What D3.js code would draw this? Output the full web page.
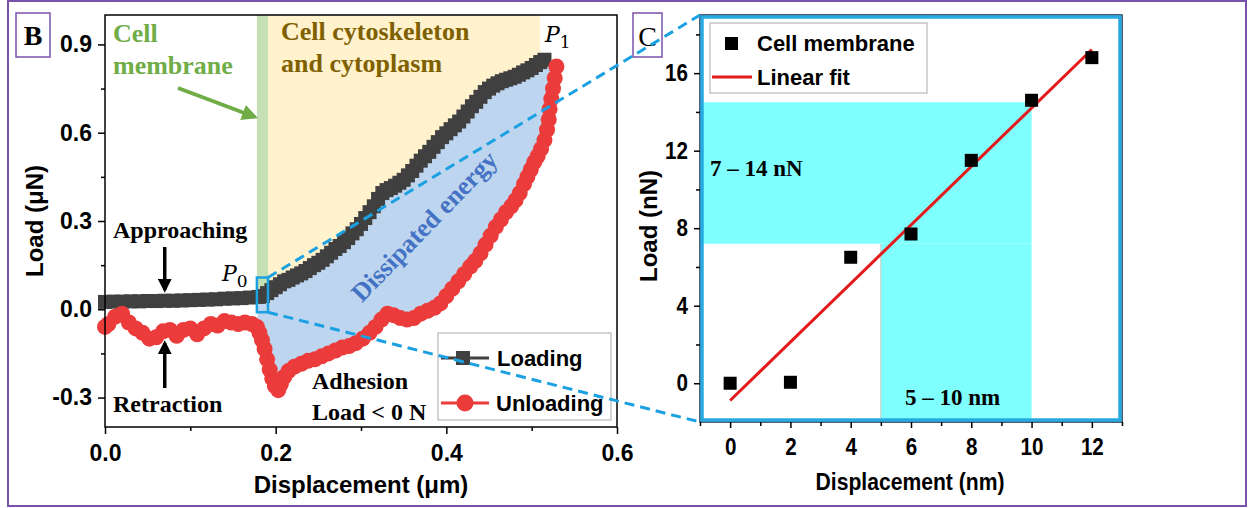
<!DOCTYPE html>
<html>
<head>
<meta charset="utf-8">
<script src="https://cdn.jsdelivr.net/npm/d3@7"></script>
<style>
  body { margin: 0; background: #fff; }
  svg { display: block; }
  .sans { font-family: "Liberation Sans", Arial, sans-serif; font-weight: bold; }
  .serif { font-family: "Liberation Serif", "Times New Roman", serif; font-weight: bold; }
</style>
</head>
<body>
<svg id="fig" width="1249" height="508"></svg>
<script>
// ---- panel B: force-displacement curve (µm, µN) ----
const loadingDisp = [0.000,0.010,0.020,0.030,0.040,0.050,0.060,0.070,0.080,0.090,0.100,0.110,0.120,0.130,0.140,0.150,0.160,0.170,0.180,0.185,
  0.190,0.195,0.200,0.205,0.210,0.215,0.220,0.225,0.230,0.235,0.240,0.245,0.250,0.255,0.260,0.265,0.270,0.275,0.280,0.285,
  0.290,0.295,0.300,0.305,0.310,0.315,0.320,0.325,0.330,0.335,0.340,0.345,0.350,0.355,0.360,0.365,0.370,0.375,0.380,0.385,
  0.390,0.395,0.400,0.405,0.410,0.415,0.420,0.425,0.430,0.435,0.440,0.445,0.450,0.455,0.460,0.465,0.470,0.475,0.480,0.485,
  0.490,0.495,0.500,0.505,0.510,0.515];
const loadingLoad = [0.025,0.026,0.026,0.027,0.027,0.028,0.028,0.029,0.029,0.030,0.031,0.032,0.033,0.034,0.036,0.037,0.038,0.040,0.042,0.045,
  0.055,0.065,0.075,0.085,0.095,0.100,0.108,0.115,0.122,0.130,0.140,0.150,0.158,0.168,0.180,0.192,0.205,0.215,0.228,0.242,
  0.258,0.272,0.290,0.310,0.330,0.350,0.375,0.395,0.405,0.412,0.420,0.430,0.440,0.455,0.470,0.488,0.505,0.520,0.535,0.552,
  0.568,0.585,0.598,0.612,0.625,0.638,0.655,0.672,0.690,0.705,0.722,0.738,0.750,0.760,0.768,0.775,0.780,0.785,0.790,0.797,
  0.805,0.812,0.820,0.830,0.840,0.848];

// unloading, in path order from P1 back to zero
const unloadingDisp = [0.529,0.527,0.525,0.523,0.521,0.520,0.518,0.515,0.511,0.507,0.503,0.499,0.495,0.491,0.486,0.481,0.476,0.470,0.464,0.458,
  0.452,0.446,0.440,0.434,0.428,0.421,0.414,0.407,0.400,0.393,0.386,0.378,0.370,0.362,0.354,0.346,0.338,0.331,0.324,0.317,
  0.310,0.302,0.294,0.286,0.278,0.270,0.262,0.254,0.246,0.238,0.230,0.222,0.215,0.210,0.206,0.203,0.199,0.196,0.193,0.190,
  0.187,0.184,0.181,0.178,0.172,0.164,0.156,0.148,0.140,0.132,0.124,0.116,0.108,0.100,0.092,0.084,0.076,0.068,0.060,0.052,
  0.044,0.036,0.028,0.020,0.012,0.004,0.000];
const unloadingLoad = [0.825,0.785,0.750,0.715,0.680,0.645,0.610,0.575,0.545,0.520,0.500,0.475,0.450,0.425,0.395,0.370,0.350,0.330,0.305,0.280,
  0.250,0.220,0.190,0.165,0.145,0.120,0.095,0.070,0.045,0.020,0.005,-0.005,-0.015,-0.030,-0.035,-0.030,-0.020,-0.015,-0.035,-0.060,
  -0.080,-0.100,-0.115,-0.125,-0.130,-0.140,-0.150,-0.160,-0.170,-0.175,-0.185,-0.195,-0.210,-0.230,-0.255,-0.275,-0.260,-0.235,-0.205,-0.170,
  -0.135,-0.105,-0.080,-0.060,-0.050,-0.045,-0.050,-0.045,-0.040,-0.055,-0.050,-0.065,-0.085,-0.065,-0.070,-0.090,-0.070,-0.075,-0.095,-0.100,
  -0.080,-0.065,-0.045,-0.015,-0.025,-0.050,-0.060];

const membraneRange = [0.178, 0.191];     // µm
const cytoRange = [0.191, 0.512];         // µm
const zoomBox = {x: [0.178, 0.191], y: [-0.01, 0.108]};
const bXTicks = [0, 0.2, 0.4, 0.6], bXMinor = [0.1, 0.3, 0.5];
const bYTicks = [-0.3, 0, 0.3, 0.6, 0.9], bYMinor = [-0.15, 0.15, 0.45, 0.75];

// ---- panel C: cell membrane points (nm, nN) ----
const memDisp = [0, 2, 4, 6, 8, 10, 12];
const memLoad = [0, 0.05, 6.5, 7.7, 11.5, 14.6, 16.8];
const loadBand = [7.2, 14.5];   // nN
const dispBand = [5, 10];       // nm
const cXTicks = [0, 2, 4, 6, 8, 10, 12], cXMinor = [-1, 1, 3, 5, 7, 9, 11, 13];
const cYTicks = [0, 4, 8, 12, 16], cYMinor = [2, 6, 10, 14, 18];

const svg = d3.select("#fig");
const defs = svg.append("defs");
function arrowMarker(id, color) {
  defs.append("marker").attr("id", id).attr("viewBox", "0 0 10 10")
    .attr("refX", 8).attr("refY", 5).attr("markerWidth", 4).attr("markerHeight", 4)
    .attr("orient", "auto").attr("markerUnits", "strokeWidth")
    .append("path").attr("d", "M0,0 L10,5 L0,10 z").attr("fill", color);
}
arrowMarker("arrK", "#000");
arrowMarker("arrG", "#70ad47");

// outer frame
svg.append("rect").attr("x", 8).attr("y", 1).attr("width", 1238).attr("height", 505)
  .attr("fill", "none").attr("stroke", "#7b52ab").attr("stroke-width", 2);

// ================= B =================
const xB = d3.scaleLinear().domain([0, 0.6]).range([105, 617]);
const yB = d3.scaleLinear().domain([-0.4, 1.0]).range([427, 15]);
const loading = loadingDisp.map((d, i) => [d, loadingLoad[i]]);
const unloading = unloadingDisp.map((d, i) => [d, unloadingLoad[i]]);
const fmtB = d => d3.format(".1f")(d).replace("−", "-");

const gB = svg.append("g");
// yellow: cytoskeleton region above loading curve
const areaTop = d3.area().x(d => xB(d[0])).y0(yB(1.0)).y1(d => yB(d[1]));
gB.append("path")
  .datum(loading.filter(d => d[0] >= cytoRange[0] - 0.001 && d[0] <= cytoRange[1]))
  .attr("d", areaTop).attr("fill", "#fff2cc");
gB.append("rect")
  .attr("x", xB(membraneRange[0])).attr("width", xB(membraneRange[1]) - xB(membraneRange[0]))
  .attr("y", yB(1.0)).attr("height", yB(0.04) - yB(1.0))
  .attr("fill", "#c5e0b4");
// dissipated energy (between curves)
const hyst = loading.filter(d => d[0] >= 0.178).concat(unloading.filter(d => d[0] >= 0.178));
gB.append("path")
  .attr("d", d3.line().x(d => xB(d[0])).y(d => yB(d[1]))(hyst) + "Z")
  .attr("fill", "#bdd5ee");

// curves
const lineB = d3.line().x(d => xB(d[0])).y(d => yB(d[1]));
gB.append("path").datum(loading).attr("d", lineB).attr("fill", "none").attr("stroke", "#404040").attr("stroke-width", 2);
gB.selectAll("rect.ld").data(loading).join("rect").attr("class", "ld")
  .attr("x", d => xB(d[0]) - 7).attr("y", d => yB(d[1]) - 7)
  .attr("width", 14).attr("height", 14).attr("fill", "#404040");
gB.append("path").datum(unloading).attr("d", lineB).attr("fill", "none").attr("stroke", "#ec3b3b").attr("stroke-width", 2);
gB.selectAll("circle.ul").data(unloading).join("circle").attr("class", "ul")
  .attr("cx", d => xB(d[0])).attr("cy", d => yB(d[1])).attr("r", 8).attr("fill", "#ec3b3b");

// frame + axes
gB.append("rect").attr("x", 105).attr("y", 15).attr("width", 512).attr("height", 412)
  .attr("fill", "none").attr("stroke", "#000").attr("stroke-width", 1.5);
function styleAxis(g, size) {
  g.select(".domain").remove();
  g.selectAll("line").attr("stroke", "#000").attr("stroke-width", 1.5);
  g.selectAll("text").attr("class", "sans").style("font-size", size + "px").attr("fill", "#000");
}
gB.append("g").attr("transform", "translate(0,427)")
  .call(d3.axisBottom(xB).tickValues(bXTicks).tickFormat(fmtB).tickSize(7).tickPadding(11))
  .call(g => styleAxis(g, 23));
gB.append("g").attr("transform", "translate(0,427)")
  .call(d3.axisBottom(xB).tickValues(bXMinor).tickFormat("").tickSize(4)).call(g => styleAxis(g, 23));
gB.append("g").attr("transform", "translate(105,0)")
  .call(d3.axisLeft(yB).tickValues(bYTicks).tickFormat(fmtB).tickSize(7).tickPadding(6))
  .call(g => styleAxis(g, 23));
gB.append("g").attr("transform", "translate(105,0)")
  .call(d3.axisLeft(yB).tickValues(bYMinor).tickFormat("").tickSize(4)).call(g => styleAxis(g, 23));

gB.append("text").attr("class", "sans").attr("font-size", 24).attr("text-anchor", "middle")
  .attr("x", 361).attr("y", 493).text("Displacement (μm)");
gB.append("text").attr("class", "sans").attr("font-size", 24).attr("text-anchor", "middle")
  .attr("transform", "translate(43,221) rotate(-90)").text("Load (μN)");

// annotations
function serifText(g, x, y, s, color, size) {
  return g.append("text").attr("class", "serif").attr("font-size", size).attr("fill", color)
    .attr("x", x).attr("y", y).text(s);
}
serifText(gB, 113, 42, "Cell", "#70ad47", 26);
serifText(gB, 113, 74, "membrane", "#70ad47", 26);
serifText(gB, 281, 40, "Cell cytoskeleton", "#7f6000", 26);
serifText(gB, 281, 72, "and cytoplasm", "#7f6000", 26);
serifText(gB, 113, 238, "Approaching", "#000", 24);
serifText(gB, 113, 412, "Retraction", "#000", 24);
serifText(gB, 312, 389, "Adhesion", "#000", 24);
serifText(gB, 312, 420, "Load < 0 N", "#000", 24);
gB.append("text").attr("class", "serif").attr("font-size", 26).attr("fill", "#4472c4")
  .attr("text-anchor", "middle").attr("dy", "0.35em")
  .attr("transform", "translate(424,226) rotate(-46)").text("Dissipated energy");

function pLabel(x, y, sub) {
  const t = gB.append("text").attr("x", x).attr("y", y)
    .style("font-family", "'DejaVu Serif', 'Liberation Serif', serif").attr("font-size", 22);
  t.append("tspan").attr("font-style", "italic").text("P");
  t.append("tspan").attr("font-size", 17).attr("dy", 6).text(sub);
}
pLabel(222, 281, "0");
pLabel(545, 42, "1");

gB.append("line").attr("x1", 178).attr("y1", 88).attr("x2", 255).attr("y2", 117)
  .attr("stroke", "#70ad47").attr("stroke-width", 4).attr("marker-end", "url(#arrG)");
gB.append("line").attr("x1", xB(0.07)).attr("y1", 247).attr("x2", xB(0.07)).attr("y2", 290)
  .attr("stroke", "#000").attr("stroke-width", 3.5).attr("marker-end", "url(#arrK)");
gB.append("line").attr("x1", xB(0.07)).attr("y1", 388).attr("x2", xB(0.07)).attr("y2", 343)
  .attr("stroke", "#000").attr("stroke-width", 3.5).attr("marker-end", "url(#arrK)");

// legend B
const lgB = gB.append("g");
lgB.append("rect").attr("x", 438).attr("y", 333).attr("width", 173).attr("height", 87)
  .attr("fill", "#fff").attr("stroke", "#aaa").attr("stroke-width", 1);
lgB.append("line").attr("x1", 441).attr("x2", 489).attr("y1", 358).attr("y2", 358).attr("stroke", "#404040").attr("stroke-width", 3);
lgB.append("rect").attr("x", 456).attr("y", 351).attr("width", 14).attr("height", 14).attr("fill", "#404040");
lgB.append("line").attr("x1", 441).attr("x2", 489).attr("y1", 403).attr("y2", 403).attr("stroke", "#ec3b3b").attr("stroke-width", 3);
lgB.append("circle").attr("cx", 465).attr("cy", 403).attr("r", 8.5).attr("fill", "#ec3b3b");
lgB.append("text").attr("class", "sans").attr("font-size", 22).attr("x", 497).attr("y", 366).text("Loading");
lgB.append("text").attr("class", "sans").attr("font-size", 22).attr("x", 496).attr("y", 411).text("Unloading");

// zoom box at P0
gB.append("rect").attr("x", xB(zoomBox.x[0])).attr("y", yB(zoomBox.y[1]))
  .attr("width", xB(zoomBox.x[1]) - xB(zoomBox.x[0])).attr("height", yB(zoomBox.y[0]) - yB(zoomBox.y[1]))
  .attr("fill", "none").attr("stroke", "#1ba1e2").attr("stroke-width", 2.5);

// label B
svg.append("rect").attr("x", 16).attr("y", 13).attr("width", 34).attr("height", 44)
  .attr("fill", "#fff").attr("stroke", "#7b52ab").attr("stroke-width", 1.5);
svg.append("text").attr("class", "serif").attr("font-size", 28).attr("text-anchor", "middle")
  .attr("x", 33).attr("y", 45).text("B");

// ================= C =================
const xC = d3.scaleLinear().domain([-1, 13]).range([700, 1122]);
const yC = d3.scaleLinear().domain([-2, 19]).range([422, 15]);
const gC = svg.append("g");
gC.append("rect").attr("x", xC(-1)).attr("y", yC(loadBand[1]))
  .attr("width", xC(dispBand[1]) - xC(-1)).attr("height", yC(loadBand[0]) - yC(loadBand[1]))
  .attr("fill", "#80ffff");
gC.append("rect").attr("x", xC(dispBand[0])).attr("y", yC(loadBand[0]))
  .attr("width", xC(dispBand[1]) - xC(dispBand[0])).attr("height", yC(-2) - yC(loadBand[0]))
  .attr("fill", "#80ffff");
gC.append("line").attr("x1", xC(dispBand[0])).attr("x2", xC(dispBand[0]))
  .attr("y1", yC(-2)).attr("y2", yC(loadBand[0])).attr("stroke", "#c8c8c8").attr("stroke-width", 1);

// linear fit from the points
const mx = d3.mean(memDisp), my = d3.mean(memLoad);
const slope = d3.sum(memDisp, (x, i) => (x - mx) * (memLoad[i] - my)) / d3.sum(memDisp, x => (x - mx) ** 2);
const icpt = my - slope * mx;
const x0 = d3.min(memDisp), x1 = d3.max(memDisp);
gC.append("line").attr("x1", xC(x0)).attr("y1", yC(icpt + slope * x0))
  .attr("x2", xC(x1)).attr("y2", yC(icpt + slope * x1))
  .attr("stroke", "#e31a1c").attr("stroke-width", 3);
gC.selectAll("rect.pt").data(memDisp).join("rect").attr("class", "pt")
  .attr("x", (d) => xC(d) - 6.5).attr("y", (d, i) => yC(memLoad[i]) - 6.5)
  .attr("width", 13).attr("height", 13).attr("fill", "#000");

serifText(gC, 710, 176, "7 – 14 nN", "#000", 23);
serifText(gC, 905, 405, "5 – 10 nm", "#000", 23);

// legend C
gC.append("rect").attr("x", 710).attr("y", 23).attr("width", 217).attr("height", 70)
  .attr("fill", "#fff").attr("stroke", "#aaa").attr("stroke-width", 1);
gC.append("rect").attr("x", 725).attr("y", 37).attr("width", 13).attr("height", 13).attr("fill", "#000");
gC.append("line").attr("x1", 712).attr("x2", 752).attr("y1", 77).attr("y2", 77).attr("stroke", "#e31a1c").attr("stroke-width", 3);
gC.append("text").attr("class", "sans").attr("font-size", 22).attr("x", 757).attr("y", 51).text("Cell membrane");
gC.append("text").attr("class", "sans").attr("font-size", 22).attr("x", 757).attr("y", 85).text("Linear fit");

// frame: black edge with cyan border inside
gC.append("rect").attr("x", 700).attr("y", 15).attr("width", 422).attr("height", 407)
  .attr("fill", "none").attr("stroke", "#1a2a40").attr("stroke-width", 1.5);
gC.append("rect").attr("x", 702).attr("y", 17).attr("width", 418).attr("height", 403)
  .attr("fill", "none").attr("stroke", "#27a9e1").attr("stroke-width", 3.5);

function styleC(g) {
  styleAxis(g, 24);
  g.selectAll("text").attr("transform", "scale(0.86,1)");
}
gC.append("g").attr("transform", "translate(0,422)")
  .call(d3.axisBottom(xC).tickValues(cXTicks).tickSize(6).tickPadding(10)).call(styleC);
gC.append("g").attr("transform", "translate(0,422)")
  .call(d3.axisBottom(xC).tickValues(cXMinor).tickFormat("").tickSize(4)).call(styleC);
gC.append("g").attr("transform", "translate(700,0)")
  .call(d3.axisLeft(yC).tickValues(cYTicks).tickSize(6).tickPadding(8)).call(styleC);
gC.append("g").attr("transform", "translate(700,0)")
  .call(d3.axisLeft(yC).tickValues(cYMinor).tickFormat("").tickSize(4)).call(styleC);

gC.append("text").attr("class", "sans").attr("font-size", 24).attr("text-anchor", "middle")
  .attr("transform", "translate(910,490) scale(0.88,1)").text("Displacement (nm)");
gC.append("text").attr("class", "sans").attr("font-size", 24).attr("text-anchor", "middle")
  .attr("transform", "translate(657,226) rotate(-90)").text("Load (nN)");

// label C
svg.append("rect").attr("x", 633).attr("y", 13).attr("width", 29).attr("height", 44)
  .attr("fill", "#fff").attr("stroke", "#7b52ab").attr("stroke-width", 1.5);
svg.append("text").style("font-family", "'Liberation Serif', serif").attr("font-size", 28)
  .attr("text-anchor", "middle").attr("x", 647.5).attr("y", 46).text("C");

// dashed zoom connectors
const conn = svg.append("g").attr("stroke", "#1ba1e2").attr("stroke-width", 3).attr("stroke-dasharray", "10 6");
conn.append("line").attr("x1", xB(zoomBox.x[1])).attr("y1", yB(zoomBox.y[1])).attr("x2", xC(-1)).attr("y2", yC(19));
conn.append("line").attr("x1", xB(zoomBox.x[1])).attr("y1", yB(zoomBox.y[0])).attr("x2", xC(-1)).attr("y2", yC(-2));
</script>
</body>
</html>
